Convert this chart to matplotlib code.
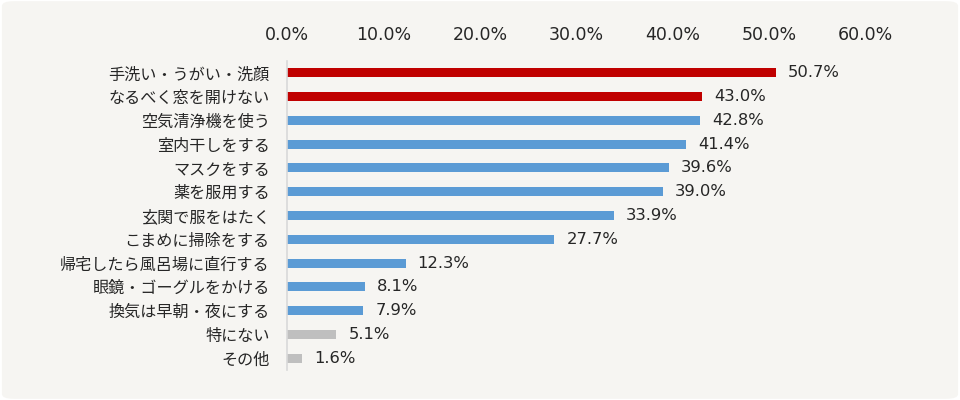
import matplotlib
matplotlib.use("Agg")
import matplotlib.pyplot as plt
from matplotlib.patches import FancyBboxPatch
from matplotlib.ticker import FuncFormatter

plt.rcParams["font.family"] = ["DejaVu Sans", "Noto Sans CJK JP"]

categories = [
    "手洗い・うがい・洗顔",
    "なるべく窓を開けない",
    "空気清浄機を使う",
    "室内干しをする",
    "マスクをする",
    "薬を服用する",
    "玄関で服をはたく",
    "こまめに掃除をする",
    "帰宅したら風呂場に直行する",
    "眼鏡・ゴーグルをかける",
    "換気は早朝・夜にする",
    "特にない",
    "その他",
]
values = [50.7, 43.0, 42.8, 41.4, 39.6, 39.0, 33.9, 27.7, 12.3, 8.1, 7.9, 5.1, 1.6]
groups = ["top", "top"] + ["mid"] * 9 + ["other", "other"]
group_colors = {"top": "#C00000", "mid": "#5B9BD5", "other": "#BFBFBF"}
xticks = [0, 10, 20, 30, 40, 50, 60]

fig = plt.figure(figsize=(9.6, 4), dpi=100)
fig.patch.set_facecolor("white")
bg = FancyBboxPatch((0.002, 0.003), 0.996, 0.994,
                    boxstyle="round,pad=0,rounding_size=0.012",
                    transform=fig.transFigure, facecolor="#F6F5F2",
                    edgecolor="none", zorder=-10)
fig.patches.append(bg)

ax = fig.add_axes([0.299, 0.075, 0.6028, 0.7725])
ax.set_zorder(5)
ax.set_facecolor("none")

ypos = list(range(len(categories)))
colors = [group_colors[g] for g in groups]
ax.barh(ypos, values, height=0.38, color=colors)

for y, v in zip(ypos, values):
    ax.text(v + 1.25, y, f"{v:.1f}%", va="center", ha="left",
            fontsize=11.8, color="#262626", family="DejaVu Sans")

ax.set_xlim(0, 60)
ax.set_ylim(len(categories) - 0.5, -0.5)
ax.set_xticks(xticks)
ax.xaxis.set_major_formatter(FuncFormatter(lambda x, _: f"{x:.1f}%"))
ax.xaxis.tick_top()
ax.tick_params(axis="x", length=0, pad=12, labelsize=12.5, labelcolor="#262626")
for lbl in ax.get_xticklabels():
    lbl.set_family("DejaVu Sans")
ax.set_yticks(ypos)
ax.set_yticklabels(categories, fontsize=11.6, color="#262626",
                   family=["Noto Sans CJK JP", "DejaVu Sans"])
ax.tick_params(axis="y", length=0, pad=12.5)

for side in ["top", "right", "bottom"]:
    ax.spines[side].set_visible(False)
ax.spines["left"].set_color("#D9D9D9")
ax.spines["left"].set_linewidth(1.2)

fig.savefig("out.png", dpi=100, facecolor=fig.get_facecolor())
